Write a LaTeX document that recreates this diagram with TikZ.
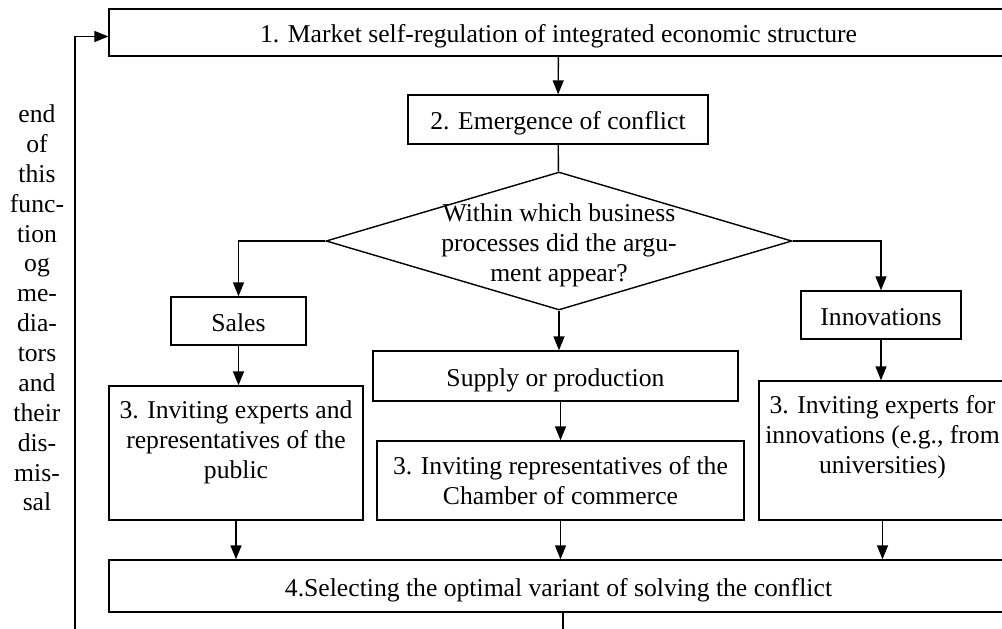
\documentclass[tikz,border=0pt]{standalone}
\usepackage{fontspec}
\setmainfont{Liberation Serif}
\usetikzlibrary{arrows.meta,positioning,shapes.geometric}

\begin{document}
\begin{tikzpicture}[x=0.02cm,y=-0.02cm,
  box/.style={draw,line width=0.8pt,inner sep=2pt,align=center,
    font=\fontsize{14.6}{17}\selectfont},
  oneline/.style={draw,line width=0.8pt,inner sep=2pt,
    font=\fontsize{14.6}{17}\selectfont,text height=12.5pt,text depth=1pt},
  decision/.style={draw,diamond,line width=0.8pt,inner sep=0pt,
    minimum width=9.32cm,minimum height=2.76cm},
  flow/.style={line width=0.8pt,-{Triangle[length=0.28cm,width=0.22cm]}},
  link/.style={line width=0.8pt}
]
\clip (0,0) rectangle (1002,629);
\node[oneline,minimum width=17.98cm,minimum height=0.94cm] (market) at (558.5,32.5)
  {1. Market self-regulation of integrated economic structure};
\node[oneline,minimum width=6cm,minimum height=0.98cm] (conflict) at (558,119.5)
  {2. Emergence of conflict};
\node[decision] (q) at (559,241) {};
\node[align=center,font=\fontsize{14.6}{17}\selectfont,yshift=-0.08cm] (qtext) at (q)
  {Within which business\\processes did the argu-\\ment appear?};
\node[oneline,minimum width=2.7cm,minimum height=0.96cm] (sales) at (238.5,321) {Sales};
\node[oneline,minimum width=3.2cm,minimum height=0.96cm] (innov) at (881,315) {Innovations};
\node[oneline,minimum width=7.3cm,minimum height=1cm] (supply) at (555.5,376)
  {Supply or production};
\node[box,minimum width=5.08cm,minimum height=2.68cm] (expertsL) at (236,453)
  {3. Inviting experts and\\representatives of the\\public\\[-7pt]\strut};
\node[box,minimum width=7.34cm,minimum height=1.58cm] (chamber) at (560.5,480.5)
  {3. Inviting representatives of the\\Chamber of commerce};
\node[box,minimum width=4.94cm,minimum height=2.78cm] (expertsR) at (882.5,450.5)
  {3. Inviting experts for\\innovations (e.g., from\\universities)\\[-4pt]\strut};
\node[oneline,minimum width=17.98cm,minimum height=1.04cm] (select) at (558.5,586)
  {4.Selecting the optimal variant of solving the conflict};
\node[align=center,font=\fontsize{14.6}{17}\selectfont] (note) at (37,308)
  {end\\of\\this\\func-\\tion\\og\\me-\\dia-\\tors\\and\\their\\dis-\\mis-\\sal};

\draw[flow] (market) -- (conflict);
\draw[link] (conflict) -- (q);
\draw[flow] (q.west) -| (sales);
\draw[flow] (q.east) -| (innov);
\draw[flow] (q.south) -- (q.south |- supply.north);
\draw[flow] (chamber.north |- supply.south) -- (chamber.north);
\draw[flow] (sales.south) -- (sales.south |- expertsL.north);
\draw[flow] (innov.south) -- (innov.south |- expertsR.north);
\draw[flow] (expertsL.south) -- (expertsL.south |- select.north);
\draw[flow] (chamber.south) -- (chamber.south |- select.north);
\draw[flow] (expertsR.south) -- (expertsR.south |- select.north);
\coordinate (exit) at (563,629);
\draw[link] (select.south -| exit) -- (exit);
\coordinate (back) at (75,629);
\draw[flow] (back) |- ([yshift=-0.08cm]market.west);
\end{tikzpicture}
\end{document}
